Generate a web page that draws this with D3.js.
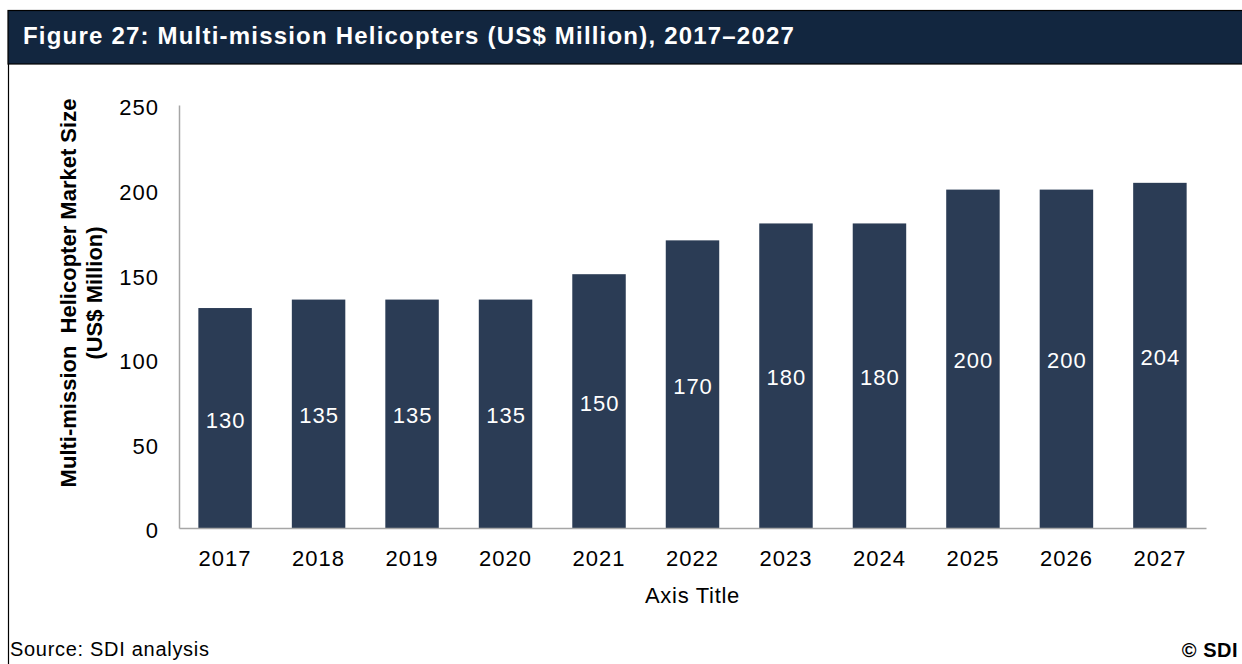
<!DOCTYPE html>
<html>
<head>
<meta charset="utf-8">
<script src="https://cdn.jsdelivr.net/npm/d3@7"></script>
<style>
  html, body { margin: 0; padding: 0; background: #ffffff; }
  svg { display: block; font-family: "Liberation Sans", Arial, sans-serif; }
</style>
</head>
<body>
<svg id="chart" width="1242" height="664"></svg>
<script>
// Market size by year, US$ million
const years = ["2017", "2018", "2019", "2020", "2021", "2022", "2023", "2024", "2025", "2026", "2027"];
const marketSize = [130, 135, 135, 135, 150, 170, 180, 180, 200, 200, 204];
const yTicks = [0, 50, 100, 150, 200, 250];

const svg = d3.select("#chart");
const W = 1242, H = 664;
const FONT = "Liberation Sans, Arial, sans-serif";

// Header band
svg.append("rect")
  .attr("x", 8).attr("y", 10.5).attr("width", W).attr("height", 53.5)
  .attr("fill", "#12263f").attr("stroke", "#000").attr("stroke-width", 1.2);
svg.append("text")
  .attr("x", 23).attr("y", 44)
  .attr("fill", "#fff").attr("font-size", 24).attr("font-weight", "bold")
  .attr("letter-spacing", 1.2)
  .text("Figure 27: Multi-mission Helicopters (US$ Million), 2017–2027");

// Left frame line
svg.append("line")
  .attr("x1", 8.5).attr("x2", 8.5).attr("y1", 64).attr("y2", H)
  .attr("stroke", "#000").attr("stroke-width", 1.2);

const plot = { left: 179, right: 1206, top: 105, bottom: 528 };

const x = d3.scaleBand().domain(years)
  .range([plot.left, plot.right]).paddingInner(0.428).paddingOuter(0.207);
const y = d3.scaleLinear().domain([0, 250]).range([plot.bottom, plot.top]);

// Bars
const data = years.map((yr, i) => ({ yr, v: marketSize[i] }));
svg.append("g").selectAll("rect").data(data).join("rect")
  .attr("x", d => x(d.yr)).attr("width", x.bandwidth())
  .attr("y", d => y(d.v)).attr("height", d => y(0) - y(d.v))
  .attr("fill", "#2b3c55");

// Value labels centred in each bar
svg.append("g").selectAll("text").data(data).join("text")
  .attr("x", d => x(d.yr) + x.bandwidth() / 2 + 0.5)
  .attr("y", d => (y(d.v) + y(0)) / 2 + 9.5)
  .attr("text-anchor", "middle").attr("fill", "#fff").attr("font-size", 22)
  .attr("letter-spacing", 1)
  .text(d => d.v);

// Y axis
const yAxis = svg.append("g").attr("transform", `translate(${plot.left},0)`)
  .call(d3.axisLeft(y).tickValues(yTicks).tickSize(0).tickPadding(20));
yAxis.select(".domain").attr("stroke", "#a6a6a6").attr("stroke-width", 1.5);
yAxis.selectAll("text").attr("font-size", 22).attr("fill", "#000")
  .attr("font-family", FONT).attr("letter-spacing", 1).attr("dy", "0.45em");

// X axis
const xAxis = svg.append("g").attr("transform", `translate(0,${plot.bottom})`)
  .call(d3.axisBottom(x).tickSize(0).tickPadding(22));
xAxis.select(".domain").attr("stroke", "#a6a6a6").attr("stroke-width", 1.5);
xAxis.selectAll("text").attr("font-size", 22).attr("fill", "#000")
  .attr("font-family", FONT).attr("letter-spacing", 1);

// Axis titles
svg.append("text")
  .attr("x", (plot.left + plot.right) / 2).attr("y", 603)
  .attr("text-anchor", "middle").attr("font-size", 22).attr("fill", "#000")
  .attr("letter-spacing", 0.7)
  .text("Axis Title");

const yTitle = svg.append("text")
  .attr("transform", "translate(75.5,293) rotate(-90)")
  .attr("text-anchor", "middle").attr("font-size", 22).attr("font-weight", "bold").attr("fill", "#000");
yTitle.append("tspan").attr("x", 0).attr("dy", 0).attr("xml:space", "preserve").text("Multi-mission  Helicopter Market Size");
yTitle.append("tspan").attr("x", 0).attr("dy", 26).text("(US$ Million)");

// Footer
svg.append("text")
  .attr("x", 10).attr("y", 656).attr("font-size", 20).attr("fill", "#000")
  .attr("letter-spacing", 0.7)
  .text("Source: SDI analysis");
svg.append("text")
  .attr("x", 1238).attr("y", 657).attr("text-anchor", "end")
  .attr("font-size", 20).attr("font-weight", "bold").attr("fill", "#000")
  .attr("letter-spacing", 0.5)
  .text("© SDI");
</script>
</body>
</html>
